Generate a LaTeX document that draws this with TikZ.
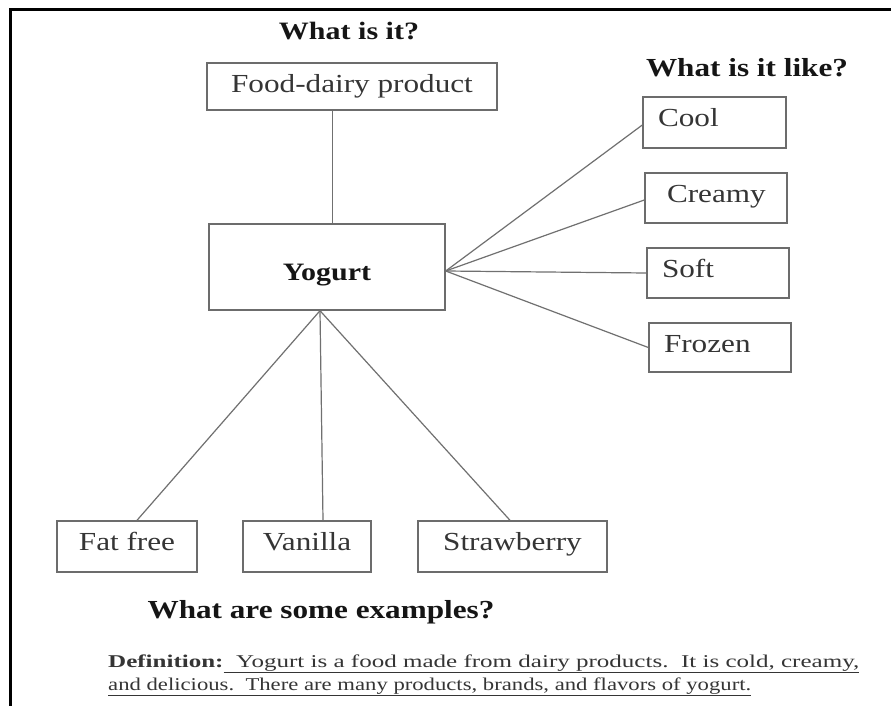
\documentclass[tikz,border=0pt]{standalone}
\usepackage{fontspec}
\setmainfont[FakeStretch=1.2]{Liberation Serif}
\newfontfamily\deffont[FakeStretch=1.4]{Liberation Serif}
\newfontfamily\deffontb[FakeStretch=1.26]{Liberation Serif}
\usetikzlibrary{calc}
\definecolor{boxgray}{HTML}{6C6C6C}
\definecolor{linegray}{HTML}{707070}
\definecolor{txtgray}{HTML}{353535}
\definecolor{headblack}{HTML}{151515}
\tikzset{
  box/.style={draw=boxgray, line width=1.4pt, inner sep=0pt, text=txtgray,
    font=\fontsize{26}{30}\selectfont},
  lbox/.style={box, align=left, text height=16pt, text depth=7pt},
  bbox/.style={box, align=center, text height=14pt, text depth=7pt},
  head/.style={anchor=base, text=headblack, inner sep=0pt, font=\bfseries\fontsize{26}{30}\selectfont},
  conn/.style={draw=linegray, line width=1.2pt},
  defline/.style={anchor=base west, inner sep=0pt, text=txtgray, font=\deffont\fontsize{18}{22}\selectfont},
  frame/.style={line width=3pt, black}
}
\begin{document}
\begin{tikzpicture}[x=1pt,y=-1pt]
\path[use as bounding box, fill=white] (0,0) rectangle (891,706);
% frame
\coordinate (fa) at (891,10);
\coordinate (fb) at (10,10);
\coordinate (fc) at (10,706);
\draw[frame] (fa) -- (fb) -- (fc);

% headings
\node[head, font=\bfseries\fontsize{25}{30}\selectfont] (h1) at (349,40) {What is it?};
\node[head] (h2) at (747,77) {What is it like?};
\node[head] (h3) at (321,618) {What are some examples?};

% boxes
\node[box, minimum width=290pt, minimum height=47pt, text height=18pt, text depth=5pt] (food) at (352,86.5) {Food-dairy product};
\node[box, minimum width=236pt, minimum height=86pt, text height=30pt, text depth=4pt, text=headblack, font=\bfseries\fontsize{25}{30}\selectfont] (yog) at (327,267) {Yogurt};

\node[lbox, inner xsep=15pt, text width=113pt, minimum height=51pt] (cool) at (714.5,122.5) {Cool};
\node[lbox, inner xsep=22pt, text width=98pt, minimum height=50pt] (creamy) at (716,198) {Creamy};
\node[lbox, inner xsep=15pt, text width=112pt, minimum height=50pt] (soft) at (718,273) {Soft};
\node[lbox, inner xsep=15pt, text width=112pt, minimum height=49pt] (frozen) at (720,347.5) {Frozen};

\node[bbox, minimum width=140pt, minimum height=51pt] (ff) at (127,546.5) {Fat free};
\node[bbox, minimum width=128pt, minimum height=51pt] (van) at (307,546.5) {Vanilla};
\node[bbox, minimum width=189pt, minimum height=51pt] (straw) at (512.5,546.5) {Strawberry};

% connectors
\draw[conn] ([xshift=5.5pt]yog.north) -- ([xshift=5.5pt]yog.north |- food.south);
\coordinate (hubR) at ([yshift=-4pt]yog.east);
\draw[conn] (hubR) -- ([yshift=-2.5pt]cool.west);
\draw[conn] (hubR) -- ([yshift=-2pt]creamy.west);
\draw[conn] (hubR) -- (soft.west);
\draw[conn] (hubR) -- (frozen.west);
\coordinate (hubB) at ([xshift=-7pt]yog.south);
\draw[conn] (hubB) -- ([xshift=10pt]ff.north);
\draw[conn] (hubB) -- ([xshift=16pt]van.north);
\draw[conn] (hubB) -- ([xshift=-2.5pt]straw.north);

% definition
\node[defline, font=\deffont\fontsize{18}{22}\selectfont\addfontfeature{FakeStretch=1.39}] (d1) at (108,667) {\textbf{Definition:}\underline{\ \ Yogurt is a food made from dairy products.\ \ It is cold, creamy,}};
\node[defline, font=\deffontb\fontsize{18}{22}\selectfont] (d2) at (108,690) {\underline{and delicious.\ \ There are many products, brands, and flavors of yogurt.}};
\end{tikzpicture}
\end{document}
